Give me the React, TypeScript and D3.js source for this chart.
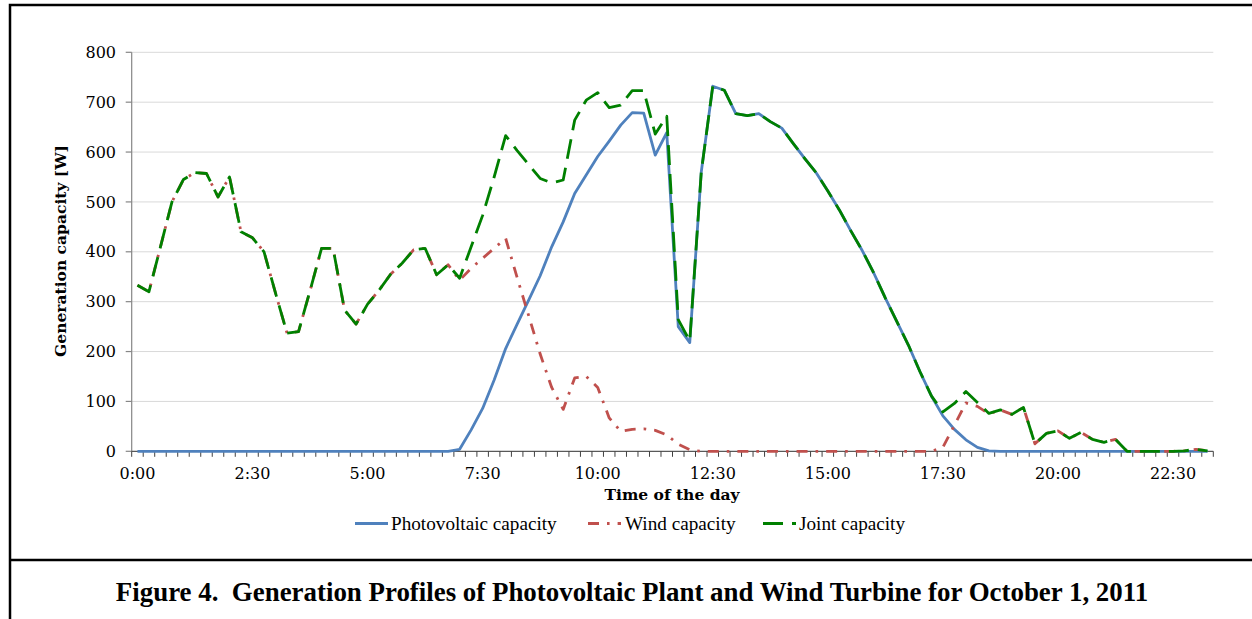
import React from 'react';
import * as d3 from 'd3';

// 15-minute categories from 0:00 to 23:15
const categories: string[] = d3.range(94).map(
  (i) => `${Math.floor(i / 4)}:${String((i % 4) * 15).padStart(2, '0')}`
);
const tickLabels = ['0:00', '2:30', '5:00', '7:30', '10:00', '12:30', '15:00', '17:30', '20:00', '22:30'];
const yTicks = [0, 100, 200, 300, 400, 500, 600, 700, 800];

const pvCapacity = [
  0, 0, 0, 0, 0, 0, 0, 0, 0, 0,
  0, 0, 0, 0, 0, 0, 0, 0, 0, 0,
  0, 0, 0, 0, 0, 0, 0, 0, 4, 43,
  86, 143, 206, 255, 303, 352, 410, 460, 517, 554,
  591, 622, 654, 679, 678, 594, 639, 250, 218, 560,
  732, 724, 677, 673, 677, 661, 648, 617, 587, 558,
  522, 484, 442, 402, 357, 307, 260, 213, 160, 111,
  71, 44, 23, 8, 1, 0, 0, 0, 0, 0,
  0, 0, 0, 0, 0, 0, 0, 0, 0, 0,
  0, 0, 0, 0,
];

const windCapacity = [
  333, 320, 410, 500, 545, 559, 557, 510, 550, 440,
  428, 400, 317, 237, 240, 322, 407, 407, 283, 255,
  295, 323, 355, 377, 404, 407, 354, 374, 343, 367,
  387, 407, 427, 348, 272, 195, 128, 84, 147, 150,
  128, 67, 40, 44, 45, 42, 33, 14, 3, 0,
  0, 0, 0, 0, 0, 0, 0, 0, 0, 0,
  0, 0, 0, 0, 0, 0, 0, 0, 0, 0,
  8, 52, 97, 90, 75, 83, 74, 88, 15, 36,
  41, 26, 38, 24, 18, 24, 0, 0, 0, 0,
  0, 1, 4, 1,
];

const jointCapacity = [
  333, 320, 410, 500, 545, 559, 557, 510, 550, 440,
  428, 400, 317, 237, 240, 322, 407, 407, 283, 255,
  295, 323, 355, 377, 404, 407, 354, 374, 347, 410,
  473, 550, 633, 603, 575, 547, 538, 544, 664, 704,
  719, 689, 694, 723, 723, 636, 672, 264, 221, 560,
  732, 724, 677, 673, 677, 661, 648, 617, 587, 558,
  522, 484, 442, 402, 357, 307, 260, 213, 160, 111,
  79, 96, 120, 98, 76, 83, 74, 88, 15, 36,
  41, 26, 38, 24, 18, 24, 0, 0, 0, 0,
  0, 1, 4, 1,
];

const seriesNames = ['Photovoltaic capacity', 'Wind capacity', 'Joint capacity'];
const seriesColors = ['#4f81bd', '#c0504d', '#008000'];
const seriesDash = ['none', '11 8 2.6 8', '20 9'];

const W = 1252;
const H = 619;
const X0 = 131.7;
const X1 = 1213.3;
const Y0 = 451.3;
const Y1 = 52.3;

const tickFont = '"DejaVu Serif", Georgia, serif';
const legendFont = '"Liberation Serif", "Times New Roman", serif';

export default function App() {
  const x = d3.scaleLinear().domain([0, categories.length]).range([X0, X1]);
  const y = d3.scaleLinear().domain([0, 800]).range([Y0, Y1]);
  const line = d3
    .line<number>()
    .x((_, i) => x(i + 0.5))
    .y((d) => y(d));

  const data = [pvCapacity, windCapacity, jointCapacity];

  // legend layout
  const legendY = 523.5;
  const legendItems = [
    { sx: 355, tx: 391 },
    { sx: 588, tx: 625 },
    { sx: 763, tx: 799 },
  ];

  return (
    <svg
      width={W}
      height={H}
      style={{ position: 'absolute', left: 0, top: 0, background: '#fff' }}
    >
      {/* frame */}
      <path d={`M10,${H} V5 H${W}`} fill="none" stroke="#000" strokeWidth={2.5} />
      <line x1={10} x2={W} y1={560} y2={560} stroke="#000" strokeWidth={2.5} />

      {/* gridlines */}
      {yTicks.slice(1).map((t) => (
        <line key={'g' + t} x1={X0} x2={X1} y1={y(t)} y2={y(t)} stroke="#d9d9d9" strokeWidth={1} />
      ))}

      {/* y axis */}
      <line x1={X0} x2={X0} y1={Y1} y2={Y0} stroke="#868686" strokeWidth={1.2} />
      {yTicks.map((t) => (
        <g key={'y' + t}>
          <line x1={X0 - 6} x2={X0} y1={y(t)} y2={y(t)} stroke="#868686" strokeWidth={1.2} />
          <text
            x={116}
            y={y(t)}
            dy="0.35em"
            textAnchor="end"
            fontFamily={tickFont}
            fontSize={16}
            fill="#000"
          >
            {t}
          </text>
        </g>
      ))}

      {/* x axis */}
      <line x1={X0} x2={X1} y1={Y0} y2={Y0} stroke="#595959" strokeWidth={1.2} />
      {d3.range(categories.length + 1).map((i) => (
        <line key={'xt' + i} x1={x(i)} x2={x(i)} y1={Y0} y2={Y0 + 5.5} stroke="#404040" strokeWidth={1} />
      ))}
      {tickLabels.map((lab) => {
        const idx = categories.indexOf(lab);
        return (
          <text
            key={'xl' + lab}
            x={x(idx + 0.5)}
            y={479}
            textAnchor="middle"
            fontFamily={tickFont}
            fontSize={16}
            fill="#000"
          >
            {lab}
          </text>
        );
      })}

      {/* series */}
      {data.map((d, k) => (
        <path
          key={'s' + k}
          d={line(d) || ''}
          fill="none"
          stroke={seriesColors[k]}
          strokeWidth={2.8}
          strokeDasharray={seriesDash[k]}
          strokeLinejoin="round"
          strokeLinecap="butt"
        />
      ))}

      {/* axis titles */}
      <text
        transform={`translate(66, 251) rotate(-90)`}
        textAnchor="middle"
        fontFamily={tickFont}
        fontWeight="bold"
        fontSize={15.5}
        fill="#000"
      >
        Generation capacity [W]
      </text>
      <text
        x={672}
        y={500}
        textAnchor="middle"
        fontFamily={tickFont}
        fontWeight="bold"
        fontSize={15.5}
        fill="#000"
      >
        Time of the day
      </text>

      {/* legend */}
      {seriesNames.map((name, k) => (
        <g key={'l' + k}>
          <line
            x1={legendItems[k].sx}
            x2={legendItems[k].sx + 33}
            y1={legendY}
            y2={legendY}
            stroke={seriesColors[k]}
            strokeWidth={2.8}
            strokeDasharray={seriesDash[k]}
          />
          <text
            x={legendItems[k].tx}
            y={legendY + 6}
            fontFamily={legendFont}
            fontSize={19.2}
            fill="#000"
          >
            {name}
          </text>
        </g>
      ))}

      {/* caption */}
      <text
        x={632}
        y={601}
        textAnchor="middle"
        fontFamily={legendFont}
        fontWeight="bold"
        fontSize={26.9}
        fill="#000"
        style={{ whiteSpace: 'pre' }}
      >
        {'Figure 4.  Generation Profiles of Photovoltaic Plant and Wind Turbine for October 1, 2011'}
      </text>
    </svg>
  );
}
